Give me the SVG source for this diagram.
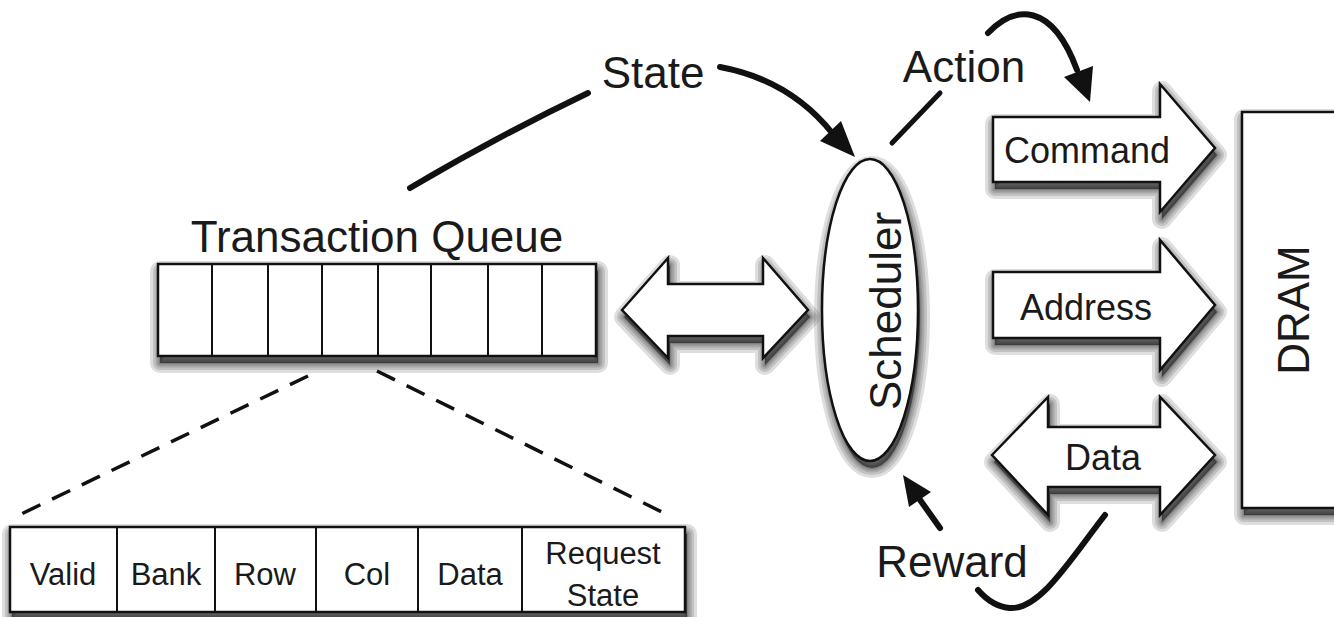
<svg xmlns="http://www.w3.org/2000/svg" xmlns:xlink="http://www.w3.org/1999/xlink" width="1334" height="617" viewBox="0 0 1334 617">
<defs>
<rect id="qbox" x="158" y="264" width="438" height="92"/>
<rect id="tbox" x="10" y="527" width="675" height="85"/>
<ellipse id="ell" cx="870" cy="310" rx="48" ry="151"/>
<rect id="dbox" x="1242" y="112" width="130" height="396"/>
<polygon id="bq" points="622,310 668,258 668,284 763,284 763,258 808,310 763,358 763,336 668,336 668,358"/>
<polygon id="cmd" points="993,117 1160,117 1160,84 1215,148 1160,212 1160,182 993,182"/>
<polygon id="adr" points="993,272 1160,272 1160,240 1215,305 1160,370 1160,338 993,338"/>
<polygon id="dat" points="992,455 1048,397 1048,427 1160,427 1160,397 1215,455 1160,515 1160,487 1048,487 1048,515"/>
<g id="shadowset">
<use href="#qbox" xlink:href="#qbox"/>
<use href="#tbox" xlink:href="#tbox"/>
<use href="#ell" xlink:href="#ell"/>
<use href="#dbox" xlink:href="#dbox"/>
<use href="#bq" xlink:href="#bq"/>
<use href="#cmd" xlink:href="#cmd"/>
<use href="#adr" xlink:href="#adr"/>
<use href="#dat" xlink:href="#dat"/>
</g>
</defs>
<style>
.box{fill:#fff;stroke:#111;stroke-width:2.5}
.cell{fill:none;stroke:#111;stroke-width:2}
.t{font-family:"Liberation Sans",Arial,Helvetica,sans-serif;fill:#1a1a1a;text-anchor:middle}
.big{font-size:44px}
.mid{font-size:36px}
.sm{font-size:31px}
.ln{fill:none;stroke:#111;stroke-linecap:round}
.dash{fill:none;stroke:#111;stroke-width:3.5;stroke-dasharray:20 13}
.head{fill:#111}
.sh{fill:#000;stroke:#000;stroke-linejoin:round;fill-opacity:0.13;stroke-opacity:0.13}
</style>
<rect width="1334" height="617" fill="#fff"/>

<g id="shadows" transform="translate(2,7)">
<use class="sh" href="#shadowset" xlink:href="#shadowset" stroke-width="20"/>
<use class="sh" href="#shadowset" xlink:href="#shadowset" stroke-width="14"/>
<use class="sh" href="#shadowset" xlink:href="#shadowset" stroke-width="9"/>
<use class="sh" href="#shadowset" xlink:href="#shadowset" stroke-width="5"/>
<use class="sh" href="#shadowset" xlink:href="#shadowset" stroke-width="2"/>
</g>

<g id="queue">
<use class="box" href="#qbox" xlink:href="#qbox"/>
<path class="cell" d="M212,264V356M268,264V356M322,264V356M378,264V356M431,264V356M488,264V356M542,264V356"/>
<text class="t big" x="377" y="252">Transaction Queue</text>
</g>

<g id="entry">
<use class="box" href="#tbox" xlink:href="#tbox"/>
<path class="cell" d="M117,527V612M215,527V612M316,527V612M418,527V612M522,527V612"/>
<text class="t sm" x="63" y="585">Valid</text>
<text class="t sm" x="166" y="585">Bank</text>
<text class="t sm" x="265" y="585">Row</text>
<text class="t sm" x="367" y="585">Col</text>
<text class="t sm" x="470" y="585">Data</text>
<text class="t sm" x="603" y="564">Request</text>
<text class="t sm" x="603" y="606">State</text>
</g>

<g id="scheduler">
<use class="box" href="#ell" xlink:href="#ell"/>
<text class="t big" transform="translate(901,311) rotate(-90)" x="0" y="0">Scheduler</text>
</g>

<g id="dram">
<use class="box" href="#dbox" xlink:href="#dbox"/>
<text class="t big" transform="translate(1309,310) rotate(-90)" x="0" y="0">DRAM</text>
</g>

<g id="bus-queue">
<use class="box" href="#bq" xlink:href="#bq"/>
</g>

<g id="command">
<use class="box" href="#cmd" xlink:href="#cmd"/>
<text class="t mid" x="1087" y="163">Command</text>
</g>

<g id="address">
<use class="box" href="#adr" xlink:href="#adr"/>
<text class="t mid" x="1086" y="320">Address</text>
</g>

<g id="data">
<use class="box" href="#dat" xlink:href="#dat"/>
<text class="t mid" x="1103" y="470">Data</text>
</g>

<g id="connectors">
<path class="dash" d="M308,376 L15,517"/>
<path class="dash" d="M377,371 L672,517"/>
<path class="ln" stroke-width="6" d="M410,188 Q500,135 588,93"/>
<path class="ln" stroke-width="6" d="M720,67 Q790,80 833,134"/>
<polygon class="head" points="855,157 820,141 841,121"/>
<path class="ln" stroke-width="5" d="M892,143 L940,93"/>
<path class="ln" stroke-width="6" d="M988,33 C1015,5 1052,2 1077,70"/>
<polygon class="head" points="1090,102 1064,77 1093,66"/>
<path class="ln" stroke-width="6" d="M1105,515 C1070,560 1040,610 1010,608 C995,607 985,598 978,590"/>
<path class="ln" stroke-width="6" d="M940,528 L918,497"/>
<polygon class="head" points="903,475 931,492 909,507"/>
<text class="t big" x="653" y="88">State</text>
<text class="t big" x="964" y="82">Action</text>
<text class="t big" x="952" y="577">Reward</text>
</g>
</svg>
